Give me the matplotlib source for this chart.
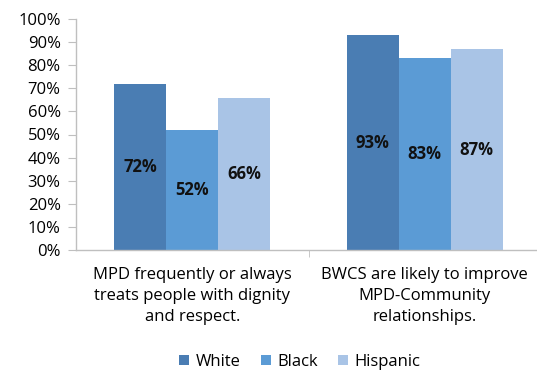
import matplotlib.pyplot as plt
import numpy as np

categories = ["MPD frequently or always\ntreats people with dignity\nand respect.",
              "BWCS are likely to improve\nMPD-Community\nrelationships."]
series = ["White", "Black", "Hispanic"]
white = [72, 93]
black = [52, 83]
hispanic = [66, 87]
colors = ["#4a7db3", "#5b9bd5", "#a9c4e6"]

plt.rcParams['font.family'] = ['Open Sans', 'DejaVu Sans']

fig = plt.figure(figsize=(5.37, 3.75), dpi=100)
ax = fig.add_axes([76 / 537, 125 / 375, 465 / 537, 231 / 375])

x = np.arange(len(categories))
w = 0.224
for i, (name, vals) in enumerate(zip(series, [white, black, hispanic])):
    bars = ax.bar(x + (i - 1) * w, vals, w, color=colors[i], label=name)
    for b, v in zip(bars, vals):
        ax.text(b.get_x() + b.get_width() / 2, v / 2, f"{v}%", ha='center', va='center',
                fontsize=12, fontweight='bold', color='#111111')

ax.set_xlim(-0.5, 1.5)
ax.set_ylim(0, 100)
ax.set_yticks(range(0, 101, 10))
ax.set_yticklabels([f"{t}%" for t in range(0, 101, 10)], fontsize=12)
ax.set_xticks(x)
ax.set_xticklabels(categories, fontsize=12, linespacing=1.45)
ax.tick_params(axis='x', length=0, pad=12)
ax.tick_params(axis='y', length=6, color='#bfbfbf', pad=5)
ax.set_xticks([0.5], minor=True)
ax.tick_params(axis='x', which='minor', length=5, color='#bfbfbf')

for s in ['top', 'right']:
    ax.spines[s].set_visible(False)
for s in ['left', 'bottom']:
    ax.spines[s].set_color('#bfbfbf')
    ax.spines[s].set_linewidth(1)

ax.legend(loc='upper center', bbox_to_anchor=(300 / 537, 36 / 375), bbox_transform=fig.transFigure,
          ncol=3, frameon=False, fontsize=12, handlelength=0.6, handleheight=0.6,
          handletextpad=0.4, columnspacing=1.2)

fig.savefig("out.png", dpi=100)
